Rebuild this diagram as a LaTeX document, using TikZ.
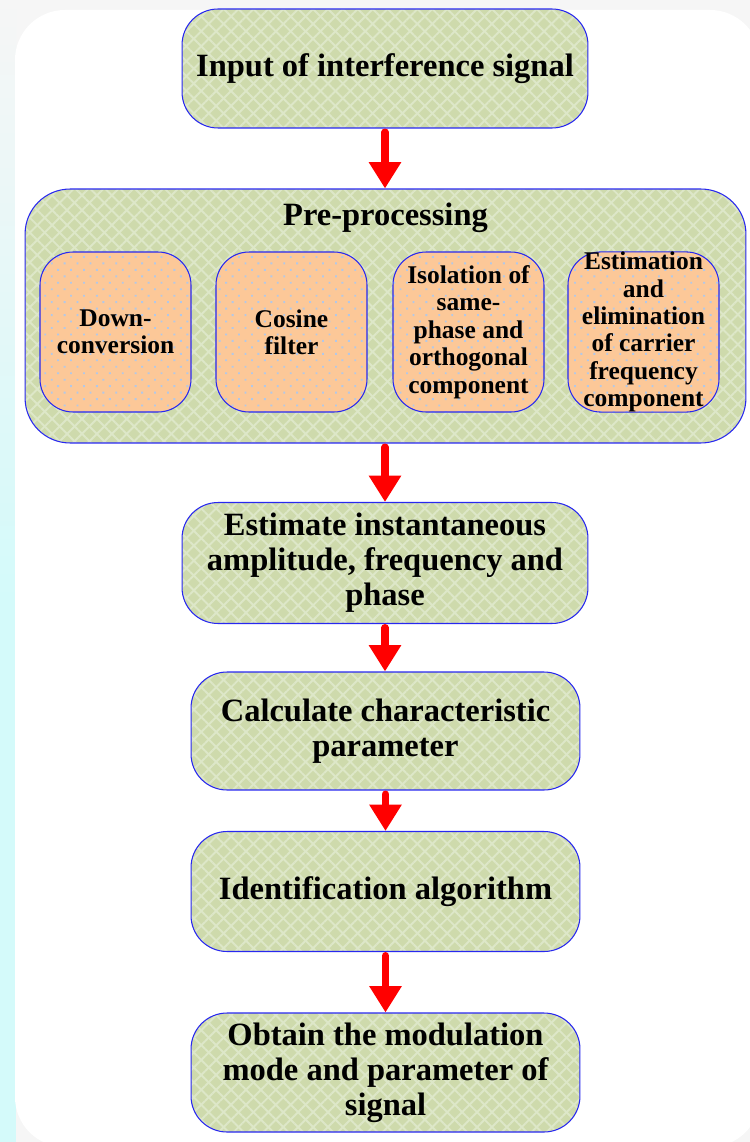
\documentclass[tikz,border=0pt]{standalone}
\usepackage{fontspec}
\setmainfont{Liberation Serif}
\usetikzlibrary{arrows.meta,patterns.meta}

\definecolor{bluel}{RGB}{40,40,240}
\definecolor{gfill}{RGB}{206,218,172}
\definecolor{glat}{RGB}{221,231,200}
\definecolor{ofill}{RGB}{252,200,152}
\definecolor{odot}{RGB}{178,200,232}
\definecolor{arrred}{RGB}{255,0,0}
\definecolor{pagebg}{RGB}{246,246,246}
\definecolor{stripcyan}{RGB}{212,250,250}

\tikzset{
  lattice/.style={
    preaction={fill=gfill},
    preaction={pattern={Lines[angle=45,distance=6pt,line width=1.1pt]},pattern color=glat},
    preaction={pattern={Lines[angle=-45,distance=6pt,line width=1.1pt]},pattern color=glat}},
  dotted fill/.style={
    preaction={fill=ofill},
    preaction={pattern={Dots[angle=45,distance=5.2pt,radius=0.75pt]},pattern color=odot}},
  greenbox/.style={lattice, draw=bluel, line width=0.6pt, rounded corners=0.72cm,
    inner sep=0pt, align=center, font=\bfseries\fontsize{18.5}{20}\selectfont},
  orangebox/.style={dotted fill, draw=bluel, line width=0.6pt, rounded corners=0.66cm,
    inner sep=0pt, align=center, minimum width=3.02cm, minimum height=3.2cm,
    font=\bfseries\fontsize{14.5}{15.6}\selectfont},
  flowarrow/.style={draw=arrred, line width=4.2pt, line cap=round, shorten <=2.1pt,
    -{Triangle[width=17.5pt,length=15pt]}},
}

\begin{document}
\begin{tikzpicture}[x=0.02cm,y=-0.02cm]
  % page and panel
  \clip (0,0) rectangle (750,1142);
  \fill[pagebg] (0,0) rectangle (750,1142);
  \shade[top color=pagebg, bottom color=stripcyan] (0,0) rectangle (16,600);
  \fill[stripcyan] (0,600) rectangle (16,1142);
  \fill[white, rounded corners=1cm] (15,10) rectangle (760,1147);

  % main chain
  \node[greenbox, minimum width=8.12cm, minimum height=2.38cm] (b1) at (385,68.5)
    {Input of interference signal};

  \node[lattice, draw=bluel, line width=0.6pt, rounded corners=0.9cm,
        minimum width=14.42cm, minimum height=5.08cm] (pre) at (385.5,316) {};
  \node[font=\bfseries\fontsize{18.5}{20}\selectfont] (pretitle) at (385.5,218) {Pre-processing};

  \node[orangebox] (d1) at (115.5,332) {Down-\\conversion};
  \node[orangebox] (d2) at (291.5,332) {Cosine\\filter};
  \node[orangebox] (d3) at (468.5,332) {Isolation of\\same-\\phase and\\orthogonal\\component};
  \node[orangebox] (d4) at (643.5,332) {Estimation\\and\\elimination\\of carrier\\frequency\\component};

  \node[greenbox, minimum width=8.12cm, minimum height=2.42cm] (b3) at (385,563)
    {Estimate instantaneous\\amplitude, frequency and\\phase};
  \node[greenbox, minimum width=7.78cm, minimum height=2.36cm] (b4) at (385.5,731)
    {Calculate characteristic\\parameter};
  \node[greenbox, minimum width=7.78cm, minimum height=2.40cm] (b5) at (385.5,891.5)
    {Identification algorithm};
  \node[greenbox, minimum width=7.78cm, minimum height=2.38cm] (b6) at (385.5,1072.5)
    {Obtain the modulation\\mode and parameter of\\signal};

  % connectors
  \draw[flowarrow] (b1.south) -- (b1.south |- pre.north);
  \draw[flowarrow] (b1.south |- pre.south) -- (b1.south |- b3.north);
  \draw[flowarrow] (b3.south) -- (b3.south |- b4.north);
  \draw[flowarrow] (b4.south) -- (b5.north);
  \draw[flowarrow] (b5.south) -- (b6.north);
\end{tikzpicture}
\end{document}
